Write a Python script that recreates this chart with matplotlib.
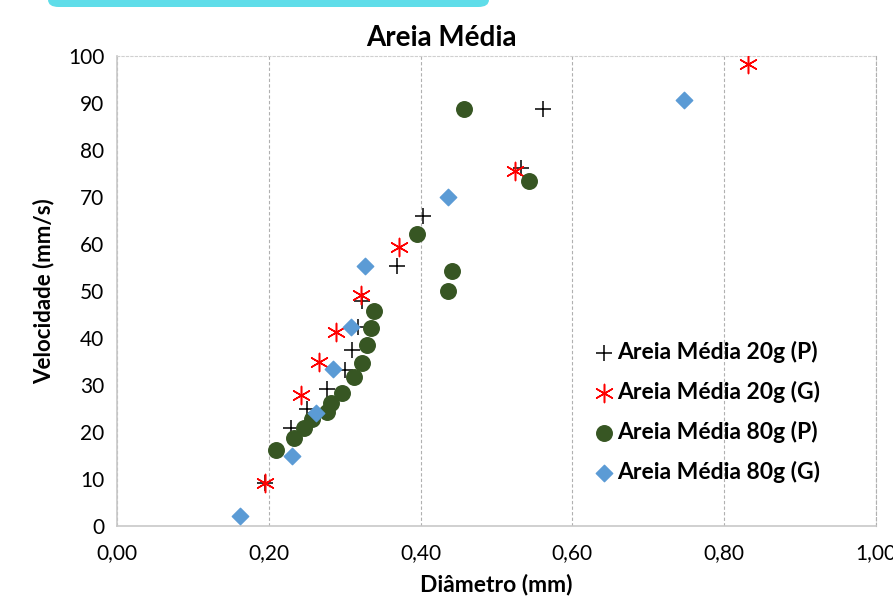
import matplotlib.pyplot as plt
from matplotlib.patches import FancyBboxPatch

# Areia Média 20g (P)
d20p = [0.195, 0.229, 0.250, 0.277, 0.300, 0.309, 0.318, 0.323, 0.369, 0.403, 0.532, 0.561]
v20p = [9.1, 20.8, 25.0, 29.1, 33.2, 37.4, 42.3, 47.9, 55.3, 66.0, 76.2, 88.7]

# Areia Média 20g (G)
d20g = [0.195, 0.242, 0.266, 0.289, 0.322, 0.372, 0.525, 0.831]
v20g = [9.1, 27.9, 34.8, 41.3, 49.1, 59.3, 75.6, 98.2]

# Areia Média 80g (P)
d80p = [0.210, 0.233, 0.247, 0.257, 0.277, 0.282, 0.297, 0.312, 0.323, 0.329,
        0.334, 0.338, 0.395, 0.436, 0.441, 0.457, 0.543]
v80p = [16.2, 18.8, 20.8, 22.7, 24.3, 26.1, 28.4, 31.6, 34.6, 38.5,
        42.1, 45.7, 62.1, 49.9, 54.3, 88.8, 73.3]

# Areia Média 80g (G)
d80g = [0.162, 0.231, 0.262, 0.284, 0.308, 0.327, 0.436, 0.747]
v80g = [2.2, 15.0, 24.1, 33.3, 42.3, 55.3, 70.1, 90.6]

xticks = [0.0, 0.2, 0.4, 0.6, 0.8, 1.0]
xlabels = ["0,00", "0,20", "0,40", "0,60", "0,80", "1,00"]
yticks = [0, 10, 20, 30, 40, 50, 60, 70, 80, 90, 100]

plt.rcParams['font.family'] = ['Lato', 'DejaVu Sans']

fig = plt.figure(figsize=(8.93, 6.06), dpi=100)
ax = fig.add_axes([117/893, 80/606, 759/893, 470/606])

ax.scatter(d20p, v20p, marker='+', s=140, color='black', linewidths=1.1,
           label='Areia Média 20g (P)', zorder=3)
ax.scatter(d20g, v20g, marker=(6, 2, 0), s=170, color='#ff0000', linewidths=1.1,
           label='Areia Média 20g (G)', zorder=3)
ax.scatter(d80p, v80p, marker='o', s=125, color='#375623',
           label='Areia Média 80g (P)', zorder=3)
ax.scatter(d80g, v80g, marker='D', s=70, color='#5b9bd5',
           label='Areia Média 80g (G)', zorder=3)

ax.set_xlim(0, 1.0)
ax.set_ylim(0, 100)
ax.set_xticks(xticks)
ax.set_xticklabels(xlabels)
ax.set_yticks(yticks)
ax.tick_params(length=0, labelsize=15, pad=12)
ax.tick_params(axis='y', pad=9)

ax.grid(axis='x', color='#b0b0b0', linestyle=(0, (3, 2)), linewidth=0.8)
for s in ['left', 'bottom']:
    ax.spines[s].set_color('#c8c8c8')
    ax.spines[s].set_linewidth(1.2)
ax.spines['top'].set_color('#d0d0d0')
ax.spines['top'].set_linestyle((0, (2, 2)))
ax.spines['right'].set_color('#b0b0b0')
ax.spines['right'].set_linestyle((0, (3, 2)))

ax.set_xlabel('Diâmetro (mm)', fontsize=16.5, fontweight='bold', labelpad=8)
ax.set_ylabel('Velocidade (mm/s)', fontsize=16, fontweight='bold', labelpad=10)
fig.text(441/893, 1 - 38/606, 'Areia Média', fontsize=20, fontweight='bold',
         ha='center', va='center')

ax.legend(loc='center left', bbox_to_anchor=(0.615, 0.243), frameon=False,
          prop={'weight': 'bold', 'size': 16.5}, handletextpad=0.05,
          labelspacing=0.78, handlelength=1.0, borderaxespad=0)

box = FancyBboxPatch((48/893, 1 - 7/606), 441/893, 0.05,
                     boxstyle='round,pad=0,rounding_size=0.012',
                     transform=fig.transFigure, facecolor='#5fdde9',
                     edgecolor='none', clip_on=False)
fig.patches.append(box)

fig.savefig('out.png', dpi=100)
